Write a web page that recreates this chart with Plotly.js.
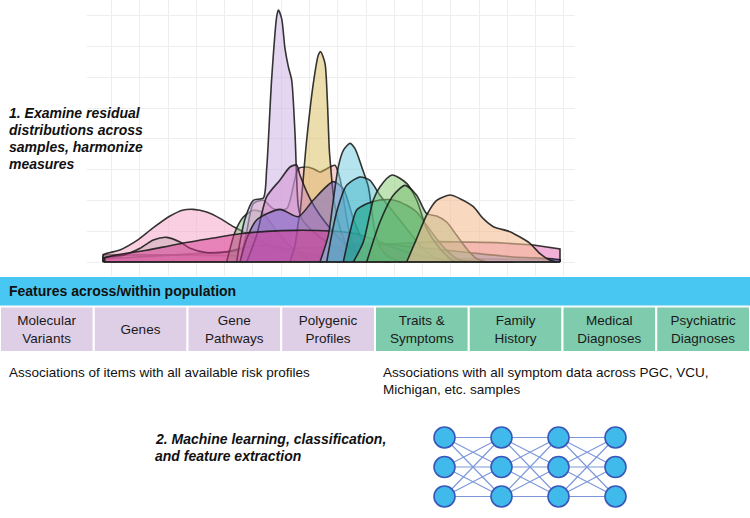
<!DOCTYPE html>
<html><head><meta charset="utf-8">
<script src="https://cdn.plot.ly/plotly-3.0.1.min.js"></script>
<style>html,body{margin:0;padding:0;background:#fff}#chart{width:750px;height:518px}</style>
</head><body><div id="chart"></div>
<script>
// ---------- density curves (x: residual units, y: density) ----------
const lavenderBandX = [0.70,0.70,4.0,8.0,12.0,14.40,14.40];
const lavenderBandY = [0,0.22,0.20,0.15,0.10,0.06,0];
const pinkBandX = [0.75,0.75,3.0,5.0,7.5,10.8,12.5,13.6,14.4,14.4];
const pinkBandY = [0,0.10,0.22,0.35,0.45,0.61,0.58,0.51,0.39,0];
const blueBroadX = [6.5,7.3,8.0,8.7,10.0,11.5,13.0,14.4,14.4];
const blueBroadY = [0,0.30,0.50,0.57,0.45,0.30,0.15,0.06,0];
const magentaBroadX = [0.75,0.75,2.0,3.0,4.0,4.8,5.6,6.5,7.5,8.2,8.8,9.4,10.0,10.8,12.0,13.0];
const magentaBroadY = [0,0.12,0.35,0.55,0.72,0.85,0.92,0.95,0.93,0.86,0.68,0.44,0.24,0.09,0.01,0];
const pinkLeftX = [0.70,0.70,1.20,1.70,2.20,2.70,3.10,3.40,3.80,4.20,4.60,5.00,5.40,5.80,6.40,7.00,7.80];
const pinkLeftY = [0,0.21,0.36,0.64,1.03,1.38,1.56,1.58,1.50,1.31,1.06,0.86,0.64,0.44,0.24,0.11,0];
const smallBumpX = [0.70,0.70,1.30,1.80,2.20,2.60,3.00,3.30,3.80,4.40,5.00,5.60,6.40,7.20,8.00];
const smallBumpY = [0,0.12,0.20,0.41,0.66,0.74,0.60,0.41,0.28,0.30,0.45,0.50,0.35,0.15,0];
const greenLeftX = [4.4,4.65,4.9,5.2,5.45,5.7,6.0,6.4,6.9,7.3];
const greenLeftY = [0,0.90,1.35,1.55,1.50,1.20,0.80,0.40,0.10,0];
const bluePurpleX = [4.8,5.0,5.3,6.0,6.55,7.0,7.6,7.9,8.2,8.5,8.8,9.2];
const bluePurpleY = [0,0.70,1.26,1.58,1.36,1.86,2.41,2.20,1.30,0.60,0.20,0];
const purplePinkX = [5.0,5.3,5.6,6.0,6.3,6.5,6.6,6.9,7.2,7.6,8.0,8.5,9.0];
const purplePinkY = [0,0.80,1.96,2.46,2.85,2.91,2.60,1.90,1.40,0.90,0.50,0.20,0];
const salmonX = [4.8,5.0,5.2,5.5,5.8,6.2,6.55,6.8,7.0,7.2,7.5,7.65,7.8,7.95,8.1,8.3,8.6];
const salmonY = [0,0.90,1.75,1.85,1.60,1.60,2.80,2.85,2.80,2.70,2.85,2.90,2.50,1.60,0.80,0.30,0];
const lavenderTallX = [4.7,4.8,4.95,5.2,5.5,5.6,5.75,5.9,5.95,6.05,6.15,6.25,6.35,6.45,6.55,6.65,6.9,7.4,8.0,8.8,9.3];
const lavenderTallY = [0,0.60,1.30,1.85,1.92,2.80,5.50,7.36,7.56,7.30,6.40,5.86,5.46,3.86,1.66,1.30,1.00,0.60,0.25,0.05,0];
const yellowX = [6.3,6.45,6.55,6.6,6.8,7.0,7.15,7.22,7.35,7.42,7.48,7.52,7.6,7.75,8.0,8.3,8.6];
const yellowY = [0,0.50,1.20,1.46,3.66,5.36,6.21,6.31,5.96,4.86,3.36,2.86,2.00,1.20,0.50,0.10,0];
const cyanX = [7.2,7.45,7.6,7.75,7.9,8.1,8.25,8.45,8.65,8.75,8.85,8.95,9.2,9.6];
const cyanY = [0,0.80,1.86,2.86,3.35,3.56,3.40,2.86,2.26,1.56,0.90,0.56,0.20,0];
const tealHumpX = [7.4,7.7,8.0,8.4,8.7,9.0,9.4,9.8,10.2,10.6,11.0];
const tealHumpY = [0,1.50,2.30,2.55,2.45,2.00,1.50,1.00,0.50,0.15,0];
const darkTealX = [7.9,8.1,8.3,8.6,9.0,9.4,9.8,10.1,10.4,10.7,11.0,11.3,11.6];
const darkTealY = [0,0.90,1.56,1.75,1.86,1.86,1.70,1.50,1.10,0.70,0.35,0.10,0];
const greenPeakX = [8.2,8.5,8.8,9.0,9.36,9.8,10.1,10.4,10.8,11.2];
const greenPeakY = [0,0.60,1.86,2.26,2.61,2.36,1.86,1.00,0.40,0];
const greenShoulderX = [8.6,9.0,9.4,9.75,10.1,10.4,10.7,11.0,11.3,11.6,11.9,12.2];
const greenShoulderY = [0,1.20,2.00,2.30,2.00,1.45,1.38,1.20,0.80,0.40,0.10,0];
const peachX = [9.8,10.1,10.4,10.7,11.1,11.4,11.8,12.1,12.4,12.9,13.2,13.5,13.8,14.1,14.3];
const peachY = [0,0.70,1.41,1.85,2.01,1.90,1.66,1.30,1.06,0.91,0.75,0.56,0.25,0.05,0];

// ---------- feature table ----------
const headerLabel = 'Features across/within population';
const headerValue = [1];
const featureLabels = ['Molecular<br>Variants','Genes','Gene<br>Pathways','Polygenic<br>Profiles',
  'Traits &<br>Symptoms','Family<br>History','Medical<br>Diagnoses','Psychiatric<br>Diagnoses'];
const featureGroups = ['genetic','genetic','genetic','genetic','phenotype','phenotype','phenotype','phenotype'];
const featureValues = [1,1,1,1,1,1,1,1];

// ---------- neural network ----------
const layerSizes = [3,3,3,3];

// ---------- text ----------
const stepOneLines = ['1. Examine residual','distributions across','samples, harmonize','measures'];
const stepTwoLines = ['2. Machine learning, classification,','and feature extraction'];
const leftNoteLines = ['Associations of items with all available risk profiles'];
const rightNoteLines = ['Associations with all symptom data across PGC, VCU,','Michigan, etc. samples'];

// ================= build =================
const W = 750, H = 518;
const FONT = 'Liberation Sans, Arial, Helvetica, sans-serif';
const px = v => v / W, py = v => 1 - v / H;

// [x, y, fill, lineShape]  (drawing order)
const curves = [
  [lavenderBandX, lavenderBandY, 'rgba(205,165,225,0.5)', 'linear'],
  [pinkBandX, pinkBandY, 'rgba(230,100,175,0.5)', 'linear'],
  [blueBroadX, blueBroadY, 'rgba(70,120,215,0.5)', 'spline'],
  [pinkLeftX, pinkLeftY, 'rgba(244,160,196,0.5)', 'spline'],
  [smallBumpX, smallBumpY, 'rgba(190,160,170,0.4)', 'spline'],
  [greenLeftX, greenLeftY, 'rgba(120,190,120,0.45)', 'spline'],
  [salmonX, salmonY, 'rgba(240,150,150,0.45)', 'spline'],
  [lavenderTallX, lavenderTallY, 'rgba(205,180,228,0.55)', 'spline'],
  [yellowX, yellowY, 'rgba(215,190,90,0.5)', 'spline'],
  [purplePinkX, purplePinkY, 'rgba(200,120,200,0.4)', 'spline'],
  [bluePurpleX, bluePurpleY, 'rgba(115,95,200,0.5)', 'spline'],
  [magentaBroadX, magentaBroadY, 'rgba(215,55,145,0.5)', 'spline'],
  [cyanX, cyanY, 'rgba(120,205,225,0.55)', 'spline'],
  [tealHumpX, tealHumpY, 'rgba(40,170,190,0.4)', 'spline'],
  [darkTealX, darkTealY, 'rgba(20,160,130,0.55)', 'spline'],
  [greenPeakX, greenPeakY, 'rgba(130,200,110,0.5)', 'spline'],
  [greenShoulderX, greenShoulderY, 'rgba(110,180,100,0.45)', 'spline'],
  [peachX, peachY, 'rgba(245,190,150,0.6)', 'spline']
];

const traces = [];
curves.forEach(([x, y, c, s]) => {
  traces.push({type:'scatter', x, y, mode:'lines', fill:'tozeroy', fillcolor:c,
    line:{color:'rgba(25,25,25,0.88)', width:1.6, shape:s, smoothing:0.7},
    hoverinfo:'skip', xaxis:'x', yaxis:'y'});
});
const allX = curves.flatMap(c => c[0]);
traces.push({type:'scatter', x:[Math.min(...allX), Math.max(...allX)], y:[0,0], mode:'lines',
  line:{color:'rgba(30,30,30,0.9)', width:2}, hoverinfo:'skip', xaxis:'x', yaxis:'y'});

// header bar
traces.push({type:'bar', orientation:'h', x:headerValue, y:[0], base:0, width:1,
  marker:{color:'#48C7F2', line:{width:0}}, hoverinfo:'skip', xaxis:'x3', yaxis:'y3'});

// feature cells
const groupColor = {genetic:'#DECEE6', phenotype:'#7FCBAE'};
traces.push({type:'bar', x:featureLabels.map((_, i) => i), y:featureValues, width:1,
  marker:{color:featureGroups.map(g => groupColor[g]), line:{color:'#ffffff', width:2}},
  text:featureLabels, textposition:'inside', insidetextanchor:'middle',
  textfont:{family:FONT, size:13.5, color:'#1a1a1a'}, hoverinfo:'skip',
  xaxis:'x2', yaxis:'y2'});

// network
const nodeX = [], nodeY = [];
layerSizes.forEach((n, l) => { for (let r = 0; r < n; r++) { nodeX.push(l); nodeY.push(r); } });
const edgeX = [], edgeY = [];
for (let l = 0; l < layerSizes.length - 1; l++) {
  for (let a = 0; a < layerSizes[l]; a++) for (let b = 0; b < layerSizes[l+1]; b++) {
    edgeX.push(l, l+1, null); edgeY.push(a, b, null);
  }
}
traces.push({type:'scatter', x:edgeX, y:edgeY, mode:'lines', line:{color:'#7D98DA', width:1.2},
  hoverinfo:'skip', xaxis:'x4', yaxis:'y4'});
traces.push({type:'scatter', x:nodeX, y:nodeY, mode:'markers',
  marker:{size:21, color:'#3FBAEA', line:{color:'#3A58BA', width:1.6}},
  hoverinfo:'skip', xaxis:'x4', yaxis:'y4'});

// annotations
const ann = [];
const addLine = (t, x, y, opts={}) => ann.push(Object.assign({text:t, x:px(x), y:py(y), xref:'paper', yref:'paper',
  xanchor:'left', yanchor:'middle', showarrow:false,
  font:{family:FONT, size:13.5, color:'#111'}}, opts));
stepOneLines.forEach((t, i) => addLine('<b><i>' + t + '</i></b>', 7, 113 + i * 17, {font:{family:FONT, size:14, color:'#111'}}));
stepTwoLines.forEach((t, i) => addLine('<b><i>' + t + '</i></b>', 153, 439 + i * 17, {font:{family:FONT, size:14, color:'#111'}}));
leftNoteLines.forEach((t, i) => addLine(t, 7, 372 + i * 17));
rightNoteLines.forEach((t, i) => addLine(t, 381, 372 + i * 17));
addLine('<b>' + headerLabel + '</b>', 7, 291, {font:{family:FONT, size:14, color:'#111'}});

const hidden = {visible:false, fixedrange:true};
const grid = '#EEEEEE';
const layout = {
  width:W, height:H, margin:{l:0, r:0, t:0, b:0}, paper_bgcolor:'#fff', plot_bgcolor:'rgba(0,0,0,0)',
  showlegend:false, bargap:0,
  xaxis:{domain:[px(87), px(575)], range:[0.21, 14.85], tick0:0.945, dtick:0.8484, showgrid:true, gridcolor:grid,
    gridwidth:1, zeroline:false, showticklabels:false, ticks:'', showline:false},
  yaxis:{domain:[py(276), 1], range:[-0.42, 7.86], tick0:0, dtick:0.924, showgrid:true, gridcolor:grid,
    gridwidth:1, zeroline:false, showticklabels:false, ticks:'', showline:false},
  xaxis2:Object.assign({domain:[0,1], range:[-0.5,7.5], anchor:'y2'}, hidden),
  yaxis2:Object.assign({domain:[py(352), py(306.5)], range:[0,1], anchor:'x2'}, hidden),
  xaxis3:Object.assign({domain:[0,1], range:[0,1], anchor:'y3'}, hidden),
  yaxis3:Object.assign({domain:[py(305.5), py(277)], range:[-0.5,0.5], anchor:'x3'}, hidden),
  xaxis4:Object.assign({domain:[px(416), px(644)], range:[-0.5,3.5], anchor:'y4'}, hidden),
  yaxis4:Object.assign({domain:[py(511.25), py(422.75)], range:[2.5,-0.5], anchor:'x4'}, hidden),
  annotations:ann
};
Plotly.newPlot('chart', traces, layout, {displayModeBar:false, staticPlot:true});
</script></body></html>
